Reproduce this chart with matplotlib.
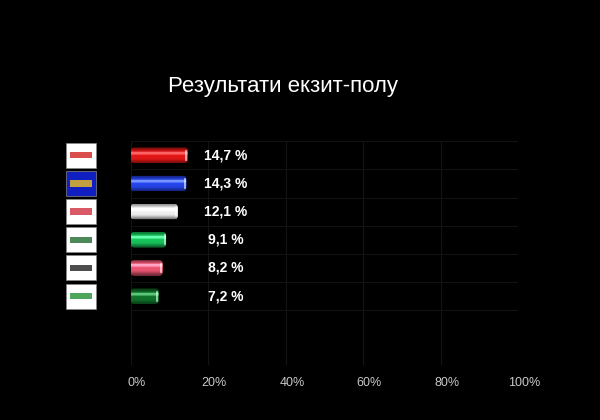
import numpy as np
import matplotlib
matplotlib.use('Agg')
import matplotlib.pyplot as plt
import matplotlib.transforms as mtransforms
from matplotlib.patches import Rectangle, FancyBboxPatch
from matplotlib.colors import to_rgb

# Data
values = [14.7, 14.3, 12.1, 9.1, 8.2, 7.2]
labels = ['14,7 %', '14,3 %', '12,1 %', '9,1 %', '8,2 %', '7,2 %']
bar_colors = ['#f01818', '#2848f8', '#ffffff', '#18d060', '#f85a78', '#107a2c']
logo_bg = ['#ffffff', '#1020c0', '#ffffff', '#ffffff', '#ffffff', '#ffffff']
logo_fg = ['#d02020', '#f0c020', '#d03040', '#206a30', '#202020', '#209030']
ticks = [0, 20, 40, 60, 80, 100]
tick_labels = ['0%', '20%', '40%', '60%', '80%', '100%']

plt.rcParams['font.family'] = ['Liberation Sans', 'DejaVu Sans']

fig = plt.figure(figsize=(6, 4.2), dpi=100, facecolor='black')
ax = fig.add_axes([0.218, 0.131, 0.646, 0.533], facecolor='black')

n = len(values)
ys = np.arange(n)[::-1]
ax.set_xlim(0, 100)
ax.set_ylim(-2.44, n - 0.5)

# faint grid
for t in ticks:
    ax.axvline(t, color='#141414', lw=0.8, zorder=0)
for b in np.arange(n + 1) - 0.5:
    ax.axhline(b, color='#121212', lw=0.8, zorder=0)

# bars with a cylinder-like shading
grad = np.concatenate([np.linspace(0.55, 1.0, 5), np.linspace(1.0, 0.92, 6), np.linspace(0.92, 0.5, 5)])
for y, v, c in zip(ys, values, bar_colors):
    h = 0.53
    box = FancyBboxPatch((0, y - h / 2), v, h, boxstyle='round,pad=0,rounding_size=0.8',
                         mutation_aspect=0.15, fc=c, ec='none', zorder=2)
    ax.add_patch(box)
    rgb = np.array(to_rgb(c))
    col = np.clip(rgb[None, :] * grad[:, None] + (grad[:, None] > 0.97) * 0.3, 0, 1)
    img = np.repeat(col[:, None, :], 2, axis=1)
    im = ax.imshow(img, extent=(0, v, y - h / 2, y + h / 2), aspect='auto',
                   origin='upper', zorder=3, interpolation='bilinear')
    im.set_clip_path(box)
    # end highlight
    ax.plot([v - 0.4, v - 0.4], [y - h * 0.3, y + h * 0.3], color='white', lw=1.2, alpha=0.7, zorder=4)

for y, lab in zip(ys, labels):
    ax.text(24.5, y, lab, color='white', fontsize=10, fontweight='bold',
            ha='center', va='center')

ax.set_xticks(ticks)
ax.set_xticklabels(tick_labels, color='#c8c8c8', fontsize=9)
ax.tick_params(axis='x', length=0, pad=9)
shift = mtransforms.ScaledTranslation(6 / 100, 0, fig.dpi_scale_trans)
for lbl in ax.get_xticklabels():
    lbl.set_transform(lbl.get_transform() + shift)
ax.set_yticks([])
for s in ax.spines.values():
    s.set_visible(False)

# party logo placeholders
for y, bg, fg in zip(ys, logo_bg, logo_fg):
    yc = ax.transData.transform((0, y))[1] / fig.bbox.height
    w, hh = 30 / 600, 25 / 420
    fig.patches.append(Rectangle((66 / 600, yc - hh / 2), w, hh, transform=fig.transFigure,
                                 fc=bg, ec='#888888', lw=0.5))
    fig.patches.append(Rectangle((70 / 600, yc - hh / 8), w - 8 / 600, hh / 4,
                                 transform=fig.transFigure, fc=fg, ec='none', alpha=0.8))

fig.text(0.472, 0.795, 'Результати екзит-полу', color='white', fontsize=16,
         ha='center', va='center')

fig.savefig('out.png', dpi=100, facecolor='black')
